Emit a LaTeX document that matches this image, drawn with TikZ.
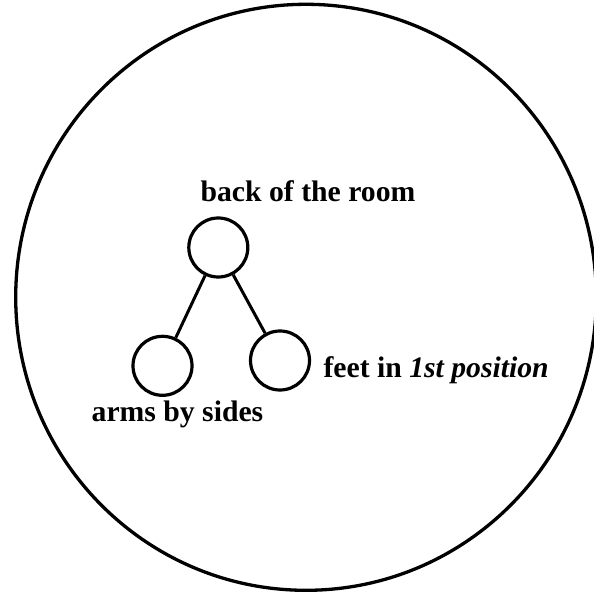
\documentclass[tikz,border=0pt]{standalone}
\usepackage{fontspec}
\setmainfont{Liberation Serif}
\begin{document}
\begin{tikzpicture}[x=1pt,y=-1pt,
  posnode/.style={draw,circle,line width=3.2pt,minimum size=59pt,inner sep=0pt},
  lbl/.style={font=\fontsize{29.7}{34}\selectfont\bfseries,inner sep=0pt},
  link/.style={line width=3pt}]
\useasboundingbox (0,0) rectangle (594,594);
\draw[line width=3.3pt] (306,297.3) ellipse [x radius=290.3, y radius=293];
\node[posnode] (top) at (218.3,247.5) {};
\node[posnode] (left) at (162.5,365.8) {};
\node[posnode] (right) at (280,360.5) {};
\draw[link] (top) -- (left);
\draw[link] (top) -- (right);
\node[lbl,anchor=base] (t1) at (308,201.7) {back of the room};
\node[lbl,anchor=base west] (t2) at (323.3,377.7) {feet in \textit{1st position}};
\node[lbl,anchor=base] (t3) at (177.5,421.7) {arms by sides};
\end{tikzpicture}
\end{document}
